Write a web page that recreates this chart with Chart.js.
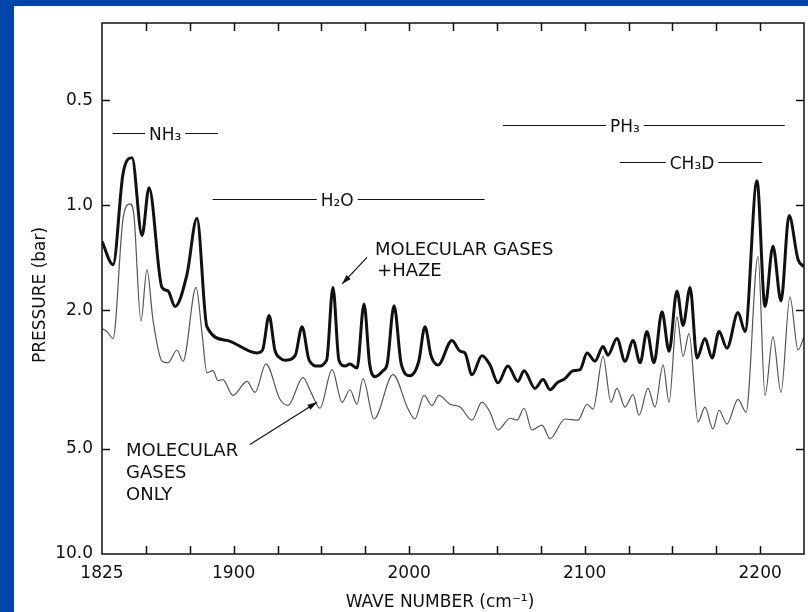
<!DOCTYPE html>
<html>
<head>
<meta charset="utf-8">
<script src="https://cdn.jsdelivr.net/npm/chart.js@4.4.1/dist/chart.umd.min.js"></script>
<style>
  html, body { margin: 0; padding: 0; background: #0046aa; }
  canvas { display: block; }
</style>
</head>
<body>
<canvas id="chart" width="808" height="612"></canvas>
<script>
// values: wave number (cm-1) and pressure (bar)
var hazeWave = [1825, 1831.3, 1837, 1842.1, 1847.8, 1851.8, 1859.2, 1862.6, 1866.6, 1873.4,
  1879.1, 1884.8, 1896.2, 1913.3, 1916.5, 1920.2, 1923.5, 1926.4, 1929.3, 1935,
  1939, 1943, 1948.1, 1953, 1956.6, 1960, 1963.5, 1966.3, 1970.3, 1974.3,
  1977.5, 1980.6, 1985.1, 1987.5, 1991.4, 1995.5, 2000.5, 2005.5, 2009, 2012.5,
  2016.5, 2024.4, 2029, 2031.8, 2035.8, 2041.5, 2046.1, 2050.6, 2056.3, 2062,
  2065.5, 2071.7, 2076.3, 2080.3, 2084.3, 2088.8, 2093.4, 2097.4, 2101.4, 2105.9,
  2110.5, 2113.3, 2118.4, 2123, 2127.6, 2131.6, 2135.5, 2139.5, 2144.1, 2148.1,
  2152.6, 2156.1, 2160.1, 2164, 2168.6, 2172.6, 2176.6, 2181.1, 2187.4, 2191.4,
  2198.2, 2202.8, 2207.3, 2211.9, 2216.5, 2221.6, 2225];
var hazePressure = [1.27, 1.48, 0.81, 0.73, 1.22, 0.89, 1.72, 1.76, 1.95, 1.58,
  1.09, 2.23, 2.44, 2.65, 2.60, 2.07, 2.60, 2.74, 2.78, 2.70,
  2.23, 2.78, 2.89, 2.78, 1.72, 2.78, 2.89, 2.85, 2.93, 1.92,
  2.85, 3.10, 2.98, 2.85, 1.94, 2.85, 3.08, 2.80, 2.23, 2.70,
  2.87, 2.44, 2.62, 2.65, 3.06, 2.70, 2.87, 3.23, 2.89, 3.20,
  2.98, 3.35, 3.16, 3.38, 3.23, 3.14, 2.98, 2.96, 2.65, 2.80,
  2.54, 2.69, 2.41, 2.80, 2.44, 2.83, 2.30, 2.83, 2.02, 2.62,
  1.76, 2.21, 1.72, 2.74, 2.41, 2.74, 2.30, 2.57, 2.03, 2.30,
  0.85, 1.95, 1.31, 1.88, 1.07, 1.43, 1.50];

var gasWave = [1825, 1827.8, 1831.3, 1837, 1841, 1843.2, 1847.2, 1850.6, 1854.1, 1859.2,
  1862.6, 1867.7, 1871.2, 1878.6, 1882, 1884.8, 1888.2, 1891.1, 1893.9, 1899.6,
  1907.6, 1912.2, 1918.4, 1926.4, 1931, 1939.5, 1944.1, 1949.2, 1956.1, 1961.8,
  1966.3, 1970.3, 1973.7, 1980, 1990.8, 1999.4, 2003.3, 2008.5, 2013, 2017,
  2023.3, 2029, 2035.8, 2041.5, 2046.1, 2050.6, 2057.5, 2061.5, 2065.5, 2070,
  2075.7, 2080.3, 2088.8, 2096.2, 2101.4, 2104.8, 2110.5, 2115, 2118.4, 2123,
  2127.6, 2131, 2136.1, 2140.1, 2144.7, 2148.1, 2152.6, 2156.1, 2159.5, 2164.6,
  2168.6, 2173.1, 2176.6, 2181.1, 2187.4, 2192, 2198.8, 2202.8, 2207.3, 2211.9,
  2217, 2221.6, 2225];
var gasPressure = [2.26, 2.30, 2.41, 1.09, 0.99, 1.07, 2.15, 1.53, 2.14, 2.80,
  2.83, 2.60, 2.80, 1.72, 2.33, 3.02, 2.98, 3.18, 3.16, 3.51,
  3.20, 3.44, 2.85, 3.60, 3.75, 3.12, 3.44, 3.82, 2.96, 3.67,
  3.38, 3.72, 3.14, 4.10, 3.06, 3.84, 4.10, 3.51, 3.75, 3.51,
  3.72, 3.79, 4.13, 3.67, 3.92, 4.41, 4.08, 4.13, 3.82, 4.41,
  4.27, 4.67, 4.10, 4.13, 3.72, 3.84, 2.71, 3.67, 3.35, 3.79,
  3.49, 4.00, 3.35, 3.79, 2.87, 3.67, 2.09, 2.71, 2.33, 4.18,
  3.79, 4.38, 3.87, 4.24, 3.60, 3.92, 1.40, 3.51, 2.38, 3.44,
  1.83, 2.60, 2.38];

var pressureTicks = [0.5, 1, 2, 5, 10];
var pressureMarks = [0.5, 1, 2, 5];
var waveTicks = [1825, 1900, 2000, 2100, 2200];
var waveMarks = [1850, 1875, 1900, 1925, 1950, 1975, 2000, 2025, 2050, 2075, 2100, 2125, 2150, 2175, 2200];

// absorption bands: name, wave range, label centre, pressure level
var bandNames = ['NH\u2083', 'H\u2082O', 'PH\u2083', 'CH\u2083D'];
var bandFrom = [1831, 1888, 2053.5, 2120.2];
var bandTo = [1891, 2043, 2214, 2201];
var bandMid = [1861, 1959, 2123, 2161.2];
var bandLevel = [0.622, 0.962, 0.587, 0.751];

var FONT = '"DejaVu Sans", sans-serif';

function pt(xs, ys) {
  return xs.map(function (x, i) { return { x: x, y: ys[i] }; });
}

function arrow(ctx, x1, y1, x2, y2) {
  var a = Math.atan2(y2 - y1, x2 - x1);
  ctx.beginPath();
  ctx.moveTo(x1, y1);
  ctx.lineTo(x2, y2);
  ctx.stroke();
  ctx.beginPath();
  ctx.moveTo(x2, y2);
  ctx.lineTo(x2 - 10 * Math.cos(a - 0.3), y2 - 10 * Math.sin(a - 0.3));
  ctx.lineTo(x2 - 10 * Math.cos(a + 0.3), y2 - 10 * Math.sin(a + 0.3));
  ctx.closePath();
  ctx.fill();
}

var decor = {
  id: 'decor',
  beforeDraw: function (c) {
    var ctx = c.ctx;
    ctx.save();
    ctx.fillStyle = '#0046aa';
    ctx.fillRect(0, 0, c.width, c.height);
    ctx.fillStyle = '#ffffff';
    ctx.fillRect(14, 6, c.width - 14, c.height - 6);
    ctx.restore();
  },
  afterDraw: function (c) {
    var ctx = c.ctx, a = c.chartArea;
    var xs = c.scales.x, ys = c.scales.y;
    ctx.save();
    ctx.strokeStyle = '#111';
    ctx.fillStyle = '#111';
    ctx.lineWidth = 1.5;
    ctx.strokeRect(a.left, a.top, a.right - a.left, a.bottom - a.top);

    // inward tick marks on all four sides
    ctx.beginPath();
    waveMarks.forEach(function (w) {
      var x = Math.round(xs.getPixelForValue(w)) + 0.5;
      ctx.moveTo(x, a.bottom); ctx.lineTo(x, a.bottom - 8);
      ctx.moveTo(x, a.top); ctx.lineTo(x, a.top + 8);
    });
    pressureMarks.forEach(function (p) {
      var y = Math.round(ys.getPixelForValue(p)) + 0.5;
      ctx.moveTo(a.left, y); ctx.lineTo(a.left + 8, y);
      ctx.moveTo(a.right, y); ctx.lineTo(a.right - 8, y);
    });
    ctx.stroke();

    // band labels with lines either side
    ctx.font = '17px ' + FONT;
    ctx.lineWidth = 1;
    ctx.textAlign = 'center';
    ctx.textBaseline = 'alphabetic';
    bandNames.forEach(function (name, i) {
      var y = Math.round(ys.getPixelForValue(bandLevel[i])) + 0.5;
      var cx = xs.getPixelForValue(bandMid[i]);
      var w = ctx.measureText(name).width;
      ctx.beginPath();
      ctx.moveTo(xs.getPixelForValue(bandFrom[i]), y);
      ctx.lineTo(cx - w / 2 - 4, y);
      ctx.moveTo(cx + w / 2 + 4, y);
      ctx.lineTo(xs.getPixelForValue(bandTo[i]), y);
      ctx.stroke();
      ctx.fillText(name, cx, y + 6);
    });

    // curve labels and arrows
    ctx.font = '18px ' + FONT;
    ctx.textAlign = 'left';
    var hx = xs.getPixelForValue(1980.6), hy = ys.getPixelForValue(1.384);
    ctx.fillText('MOLECULAR GASES', hx, hy);
    ctx.fillText('+HAZE', hx + 2, hy + 21);
    var ox = xs.getPixelForValue(1838.7), oy = ys.getPixelForValue(5.25);
    ctx.fillText('MOLECULAR', ox, oy);
    ctx.fillText('GASES', ox, oy + 22);
    ctx.fillText('ONLY', ox, oy + 44);
    ctx.lineWidth = 1.2;
    arrow(ctx, xs.getPixelForValue(1976), ys.getPixelForValue(1.41),
      xs.getPixelForValue(1961.8), ys.getPixelForValue(1.68));
    arrow(ctx, xs.getPixelForValue(1909.3), ys.getPixelForValue(4.85),
      xs.getPixelForValue(1947.5), ys.getPixelForValue(3.67));

    // axis titles
    ctx.font = '17px ' + FONT;
    ctx.textAlign = 'center';
    ctx.fillText('WAVE NUMBER (cm\u207B\u00B9)', (a.left + a.right) / 2 - 13, 607);
    ctx.translate(45, 295);
    ctx.rotate(-Math.PI / 2);
    ctx.fillText('PRESSURE (bar)', 0, 0);
    ctx.restore();
  }
};

var chart = new Chart(document.getElementById('chart'), {
  type: 'line',
  data: {
    datasets: [{
      label: 'Molecular gases + haze',
      data: pt(hazeWave, hazePressure),
      borderColor: '#111',
      borderWidth: 3,
      pointRadius: 0,
      cubicInterpolationMode: 'monotone',
      fill: false
    }, {
      label: 'Molecular gases only',
      data: pt(gasWave, gasPressure),
      borderColor: '#555',
      borderWidth: 1.2,
      pointRadius: 0,
      cubicInterpolationMode: 'monotone',
      fill: false
    }]
  },
  options: {
    responsive: false,
    animation: false,
    layout: { padding: { top: 23, right: 4, left: 0, bottom: 0 } },
    plugins: { legend: { display: false }, tooltip: { enabled: false } },
    scales: {
      x: {
        type: 'linear',
        min: 1825,
        max: 2225,
        grid: { display: false, drawTicks: false },
        border: { display: false },
        afterBuildTicks: function (s) { s.ticks = waveTicks.map(function (v) { return { value: v }; }); },
        afterFit: function (s) { s.height = 58; },
        ticks: {
          padding: 9, autoSkip: false, maxRotation: 0, color: '#111',
          font: { family: FONT, size: 17 },
          callback: function (v) { return String(v); }
        }
      },
      y: {
        type: 'logarithmic',
        reverse: true,
        min: 0.317,
        max: 10,
        grid: { display: false, drawTicks: false },
        border: { display: false },
        afterBuildTicks: function (s) { s.ticks = pressureTicks.map(function (v) { return { value: v }; }); },
        afterFit: function (s) { s.width = 102; },
        ticks: {
          padding: 9, autoSkip: false, color: '#111',
          font: { family: FONT, size: 17 },
          callback: function (v) { return Number(v).toFixed(1); }
        }
      }
    }
  },
  plugins: [decor]
});
</script>
</body>
</html>
